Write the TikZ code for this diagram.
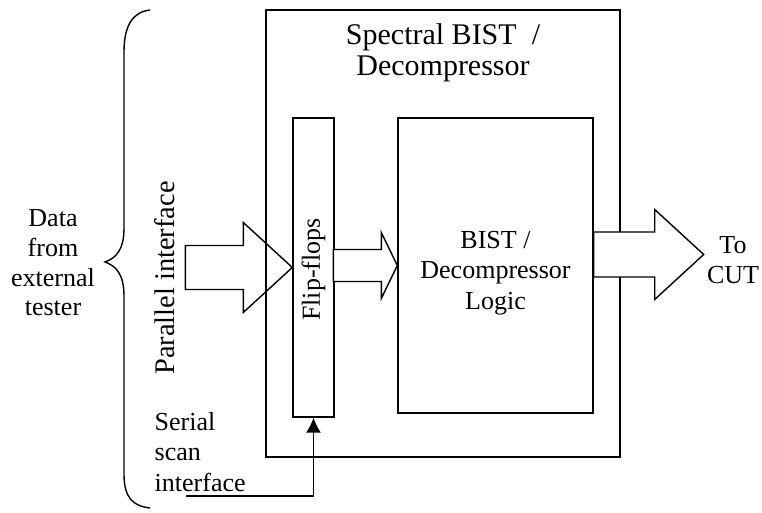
\documentclass[tikz,border=0pt]{standalone}
\usepackage{fontspec}
\setmainfont{Liberation Serif}
\usetikzlibrary{arrows.meta,calc}

\begin{document}
\begin{tikzpicture}[x=0.5pt,y=-0.5pt,line width=0.7pt,
  box/.style={draw, inner sep=0pt},
  txt/.style={font=\fontsize{13}{15.2}\selectfont, align=center, inner sep=0pt},
  blockarrow/.style={draw, line join=miter}]
\useasboundingbox (0,0) rectangle (762,513);

% blocks
\node[box, minimum width=177pt, minimum height=223.5pt] (bist) at (443,233.5) {};
\node[box, minimum width=20.5pt, minimum height=149.5pt] (ff) at (313.5,267.5) {};
\node[box, minimum width=97.5pt, minimum height=147.5pt] (logic) at (495.5,265.5) {};

\node[txt, font=\fontsize{15}{15.5}\selectfont] (title) at (443,52.5) {Spectral BIST\ \ /\\Decompressor};
\node[txt, rotate=90] (fflbl) at ($(ff.center)+(0,2)$) {Flip-flops};
\node[txt] (logiclbl) at ($(logic.center)+(0,7.5)$) {BIST /\\Decompressor\\Logic};

% block arrows
\draw[blockarrow] (ff.west) -- ++(-49,-45) -- ++(0,23) -- ++(-58,0) -- ++(0,44)
  -- ++(58,0) -- ++(0,23) -- cycle;
\draw[blockarrow, fill=white] (logic.west) -- ++(-16,-33) -- ++(0,17) -- ++(-48,0) -- ++(0,32)
  -- ++(48,0) -- ++(0,17) -- cycle;
\coordinate (cutin) at ($(logic.east)+(0,-11)$);
\draw[blockarrow, fill=white] (cutin) -- ++(0,-22.5) -- ++(61,0) -- ++(0,-22.5) -- ++(49,45)
  coordinate (cuttip) -- ++(-49,45) -- ++(0,-22.5) -- ++(-61,0) -- cycle;
\node[txt] (cut) at (733,260) {To\\CUT};

% inputs
\node[txt, rotate=90, font=\fontsize{14.2}{16}\selectfont] (parallel) at (165,278) {Parallel interface};
\node[txt, align=left, anchor=west] (serial) at (154,452) {Serial\\scan\\interface};
\coordinate (serialin) at (186,496);
\draw[-{Latex[length=7.5pt,width=7.5pt]}] (serialin) -| (ff.south);

% brace
\draw (150,10) .. controls (133,12) and (124,25) .. (124,52) -- (124,228)
  .. controls (124,250) and (116,258) .. (105,262)
  .. controls (116,266) and (124,274) .. (124,296) -- (124,474)
  .. controls (124,498) and (133,506) .. (150,508);
\node[txt, font=\fontsize{13}{14.8}\selectfont] (data) at (53,263) {Data\\from\\external\\tester};

\end{tikzpicture}
\end{document}
